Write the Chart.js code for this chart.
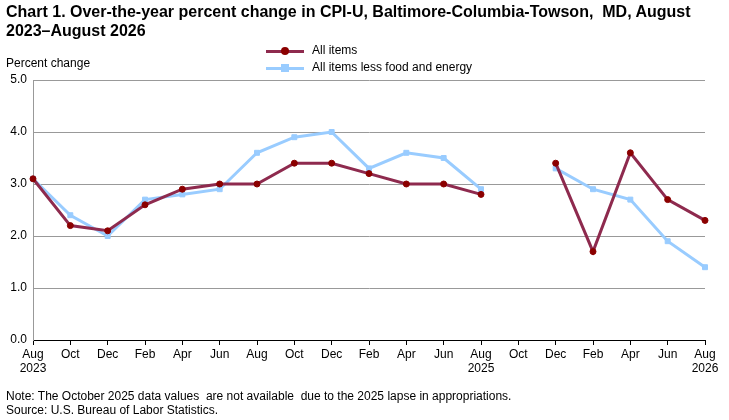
<!DOCTYPE html>
<html>
<head>
<meta charset="utf-8">
<script src="https://cdn.jsdelivr.net/npm/chart.js@4"></script>
<style>
  body { margin: 0; background: #fff; font-family: Arial, "Liberation Sans", sans-serif; }
  #wrap { position: relative; width: 729px; height: 420px; }
  canvas { position: absolute; left: 0; top: 0; }
  .title { position: absolute; left: 6px; top: 2px; width: 715px; font-weight: bold; font-size: 16px; line-height: 19px; color: #000; }
  .ylab { position: absolute; left: 6px; top: 56px; font-size: 12px; }
  .note { position: absolute; left: 6px; top: 389px; font-size: 12px; line-height: 14px; }
  .legend { position: absolute; left: 262px; top: 42px; font-size: 12px; line-height: 17px; }
  .legend div { position: relative; padding-left: 50px; }
  .legend span.l { position: absolute; left: 4px; top: 8px; width: 38px; height: 3px; }
  .legend span.m { position: absolute; left: 19px; top: 5px; width: 8px; height: 8px; }
</style>
</head>
<body>
<div id="wrap">
  <canvas id="chart" width="729" height="420"></canvas>
  <div class="title">Chart 1. Over-the-year percent change in CPI-U, Baltimore-Columbia-Towson,&nbsp; MD, August 2023–August 2026</div>
  <div class="legend">
    <div><span class="l" style="background:#8e2a4e"></span><span class="m" style="background:#8b0000;border-radius:50%"></span>All items</div>
    <div><span class="l" style="background:#99ccff"></span><span class="m" style="background:#99ccff"></span>All items less food and energy</div>
  </div>
  <div class="ylab">Percent change</div>
  <div class="note">Note: The October 2025 data values&nbsp; are not available&nbsp; due to the 2025 lapse in appropriations.<br>Source: U.S. Bureau of Labor Statistics.</div>
</div>
<script>
// bimonthly labels, Aug 2023 to Aug 2026
const months = [['Aug','2023'],'Oct','Dec','Feb','Apr','Jun','Aug','Oct','Dec','Feb','Apr','Jun',['Aug','2025'],'Oct','Dec','Feb','Apr','Jun',['Aug','2026']];
const allItems = [3.1, 2.2, 2.1, 2.6, 2.9, 3.0, 3.0, 3.4, 3.4, 3.2, 3.0, 3.0, 2.8, null, 3.4, 1.7, 3.6, 2.7, 2.3];
const coreItems = [3.1, 2.4, 2.0, 2.7, 2.8, 2.9, 3.6, 3.9, 4.0, 3.3, 3.6, 3.5, 2.9, null, 3.3, 2.9, 2.7, 1.9, 1.4];
const yTicks = [0, 1, 2, 3, 4, 5];

document.addEventListener('DOMContentLoaded', function () {
    const ctx = document.getElementById('chart');
    new Chart(ctx, {
        type: 'line',
        data: {
            labels: months,
            datasets: [{
                label: 'All items',
                data: allItems,
                borderColor: '#8e2a4e',
                borderWidth: 3,
                pointStyle: 'circle',
                pointRadius: 3,
                pointBorderWidth: 1,
                pointBackgroundColor: '#8b0000',
                pointBorderColor: '#8b0000',
                spanGaps: false,
                tension: 0
            }, {
                label: 'All items less food and energy',
                data: coreItems,
                borderColor: '#99ccff',
                borderWidth: 3,
                pointStyle: 'rect',
                pointRadius: 3.5,
                pointBorderWidth: 1,
                pointBackgroundColor: '#99ccff',
                pointBorderColor: '#99ccff',
                spanGaps: false,
                tension: 0
            }]
        },
        options: {
            responsive: false,
            animation: false,
            layout: { padding: { top: 80, right: 24, bottom: 40, left: 0 } },
            plugins: { legend: { display: false }, tooltip: { enabled: false } },
            scales: {
                x: {
                    offset: false,
                    afterFit: function (axis) { axis.height = 40; },
                    grid: { display: true, drawOnChartArea: false, color: '#000', tickLength: 5 },
                    border: { color: '#000' },
                    ticks: { color: '#000', font: { size: 12, family: 'Arial, "Liberation Sans"' }, maxRotation: 0, autoSkip: false, padding: 2 }
                },
                y: {
                    min: 0, max: 5,
                    afterFit: function (axis) { axis.width = 33; },
                    afterBuildTicks: function (axis) { axis.ticks = yTicks.map(v => ({ value: v })); },
                    grid: { color: '#999', drawTicks: false },
                    border: { display: true, color: '#999' },
                    ticks: { color: '#000', padding: 6, font: { size: 12, family: 'Arial, "Liberation Sans"' }, callback: v => v.toFixed(1) }
                }
            }
        }
    });
});
</script>
</body>
</html>
